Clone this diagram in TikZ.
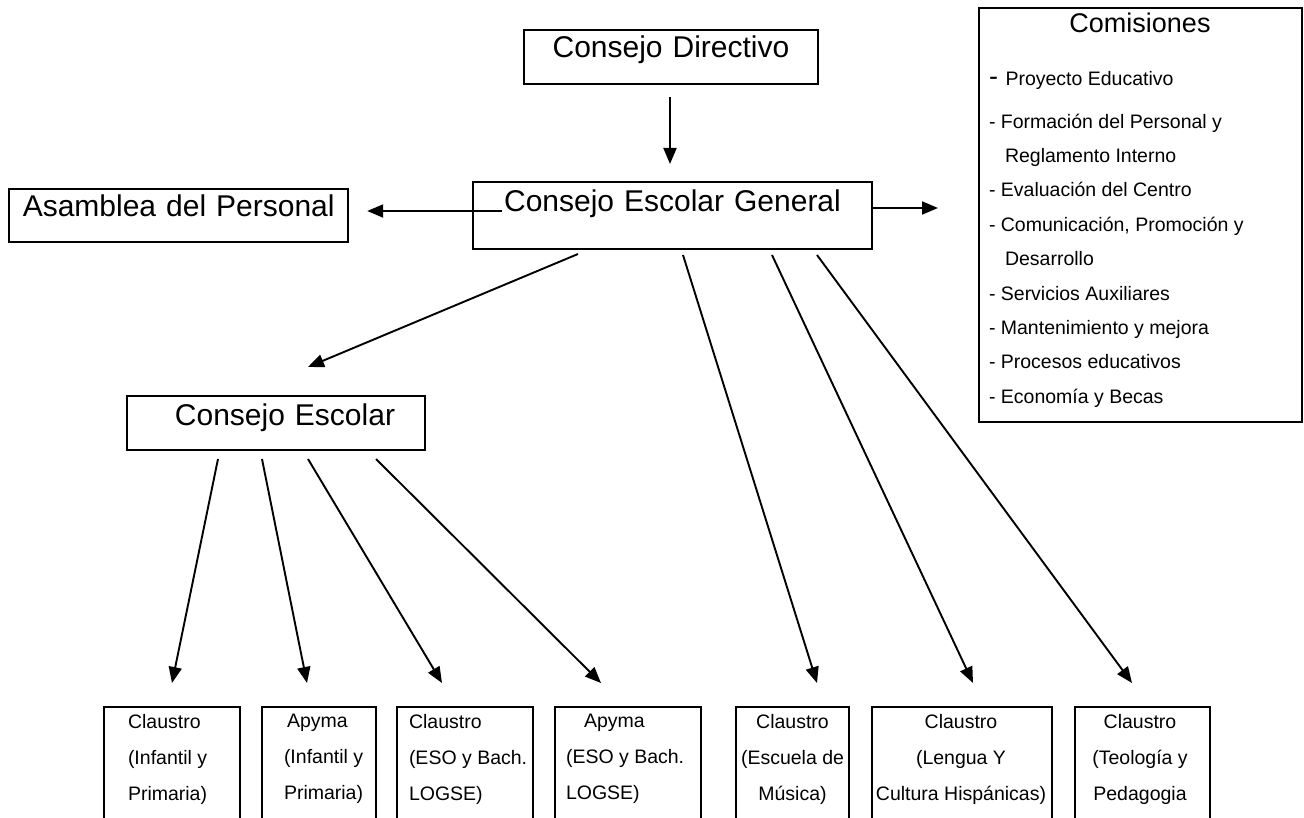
\documentclass[tikz,border=0pt]{standalone}
\usepackage{fontspec}
\setmainfont{Liberation Sans}
\usetikzlibrary{arrows.meta}
\begin{document}
\begin{tikzpicture}[x=1pt,y=-1pt,
  box/.style={draw, line width=2.3pt, inner sep=0pt, outer sep=0pt},
  arr/.style={line width=1.9pt, -{Triangle[length=16pt,width=13pt]}},
  big/.style={font=\fontsize{30}{36}\selectfont},
  small/.style={font=\fontsize{19.5}{36}\selectfont, inner sep=0pt, outer sep=0pt},
  cell/.style={box, minimum height=140pt, anchor=north west}]
\useasboundingbox (0,0) rectangle (1304,818);

% main boxes
\node[box, big, text width=294pt, align=center, text height=28pt, text depth=26pt, anchor=base] (cd) at (671,58) {Consejo Directivo};
\node[box, big, text width=399pt, align=center, text height=30pt, text depth=37pt, anchor=base] (ceg) at (672.5,212) {Consejo Escolar General};
\node[box, big, text width=339pt, align=center, text height=27.7pt, text depth=25.3pt, anchor=base] (asm) at (178.7,216.7) {Asamblea del Personal};
\node[box, big, text width=298pt, align=center, text height=29pt, text depth=25pt, anchor=base] (ce) at (276,425) {\hspace*{18pt}Consejo Escolar};

% Comisiones
\node[box, minimum width=323pt, minimum height=414pt, anchor=north west] (com) at (979,8) {};
\node[font=\fontsize{27}{32}\selectfont, anchor=base, inner sep=0pt] (comt) at (1140,33) {Comisiones};
\node[small, font=\fontsize{19.5}{34.4}\selectfont, align=left, anchor=north west] (coml) at (989,71) {%
{\fontsize{27}{32}\selectfont- }Proyecto Educativo\\[8.6pt]
- Formación del Personal y\\
\hspace*{16pt}Reglamento Interno\\
- Evaluación del Centro\\
- Comunicación, Promoción y\\
\hspace*{16pt}Desarrollo\\
- Servicios Auxiliares\\
- Mantenimiento y mejora\\
- Procesos educativos\\
- Economía y Becas};

% bottom boxes
\node[cell, minimum width=136pt] (b1) at (104,707) {};
\node[cell, minimum width=114pt] (b2) at (262,707) {};
\node[cell, minimum width=136pt] (b3) at (397,707) {};
\node[cell, minimum width=146pt] (b4) at (555,707) {};
\node[cell, minimum width=113pt] (b5) at (736,707) {};
\node[cell, minimum width=180pt] (b6) at (872,707) {};
\node[cell, minimum width=135pt] (b7) at (1075,707) {};

\node[small, align=left, anchor=north west] (t1) at (128,714) {Claustro\\(Infantil y\\Primaria)};
\node[small, align=left, anchor=north west] (t2) at (284,714) {\hspace*{3pt}Apyma\\(Infantil y\\Primaria)};
\node[small, align=left, anchor=north west] (t3) at (409,714) {Claustro\\(ESO y Bach.\\LOGSE)};
\node[small, align=left, anchor=north west] (t4) at (566,714) {\hspace*{18pt}Apyma\\(ESO y Bach.\\LOGSE)};
\node[small, align=center, anchor=north] (t5) at (792.5,714) {Claustro\\(Escuela de\\Música)};
\node[small, align=center, anchor=north] (t6) at (961,714) {Claustro\\(Lengua Y\\Cultura Hispánicas)};
\node[small, align=center, anchor=north] (t7) at (1140,714) {Claustro\\(Teología y\\Pedagogia};

% connectors
\draw[arr] ([shift={(-1,13)}]cd.south) -- ([shift={(-2.5,-18)}]ceg.north);
\draw[arr] ([shift={(29,-4.5)}]ceg.west) -- ([shift={(19,-4.5)}]asm.east);
\draw[arr] ([shift={(1,-7.5)}]ceg.east) -- ([shift={(-41,-7)}]com.west);
\draw[arr] ([shift={(-94.5,5)}]ceg.south) -- ([shift={(32,-29)}]ce.north);
\draw[arr] ([shift={(10.5,6)}]ceg.south) -- ([shift={(24.5,-24)}]b5.north);
\draw[arr] ([shift={(99.5,6)}]ceg.south) -- ([shift={(11,-24)}]b6.north);
\draw[arr] ([shift={(144.5,6)}]ceg.south) -- ([shift={(-10.5,-24)}]b7.north);
\draw[arr] ([shift={(-58,9)}]ce.south) -- ([shift={(0,-24)}]b1.north);
\draw[arr] ([shift={(-14,9)}]ce.south) -- ([shift={(-12,-24)}]b2.north);
\draw[arr] ([shift={(32,9)}]ce.south) -- ([shift={(-23,-24)}]b3.north);
\draw[arr] ([shift={(100,9)}]ce.south) -- ([shift={(-27,-24)}]b4.north);
\end{tikzpicture}
\end{document}
